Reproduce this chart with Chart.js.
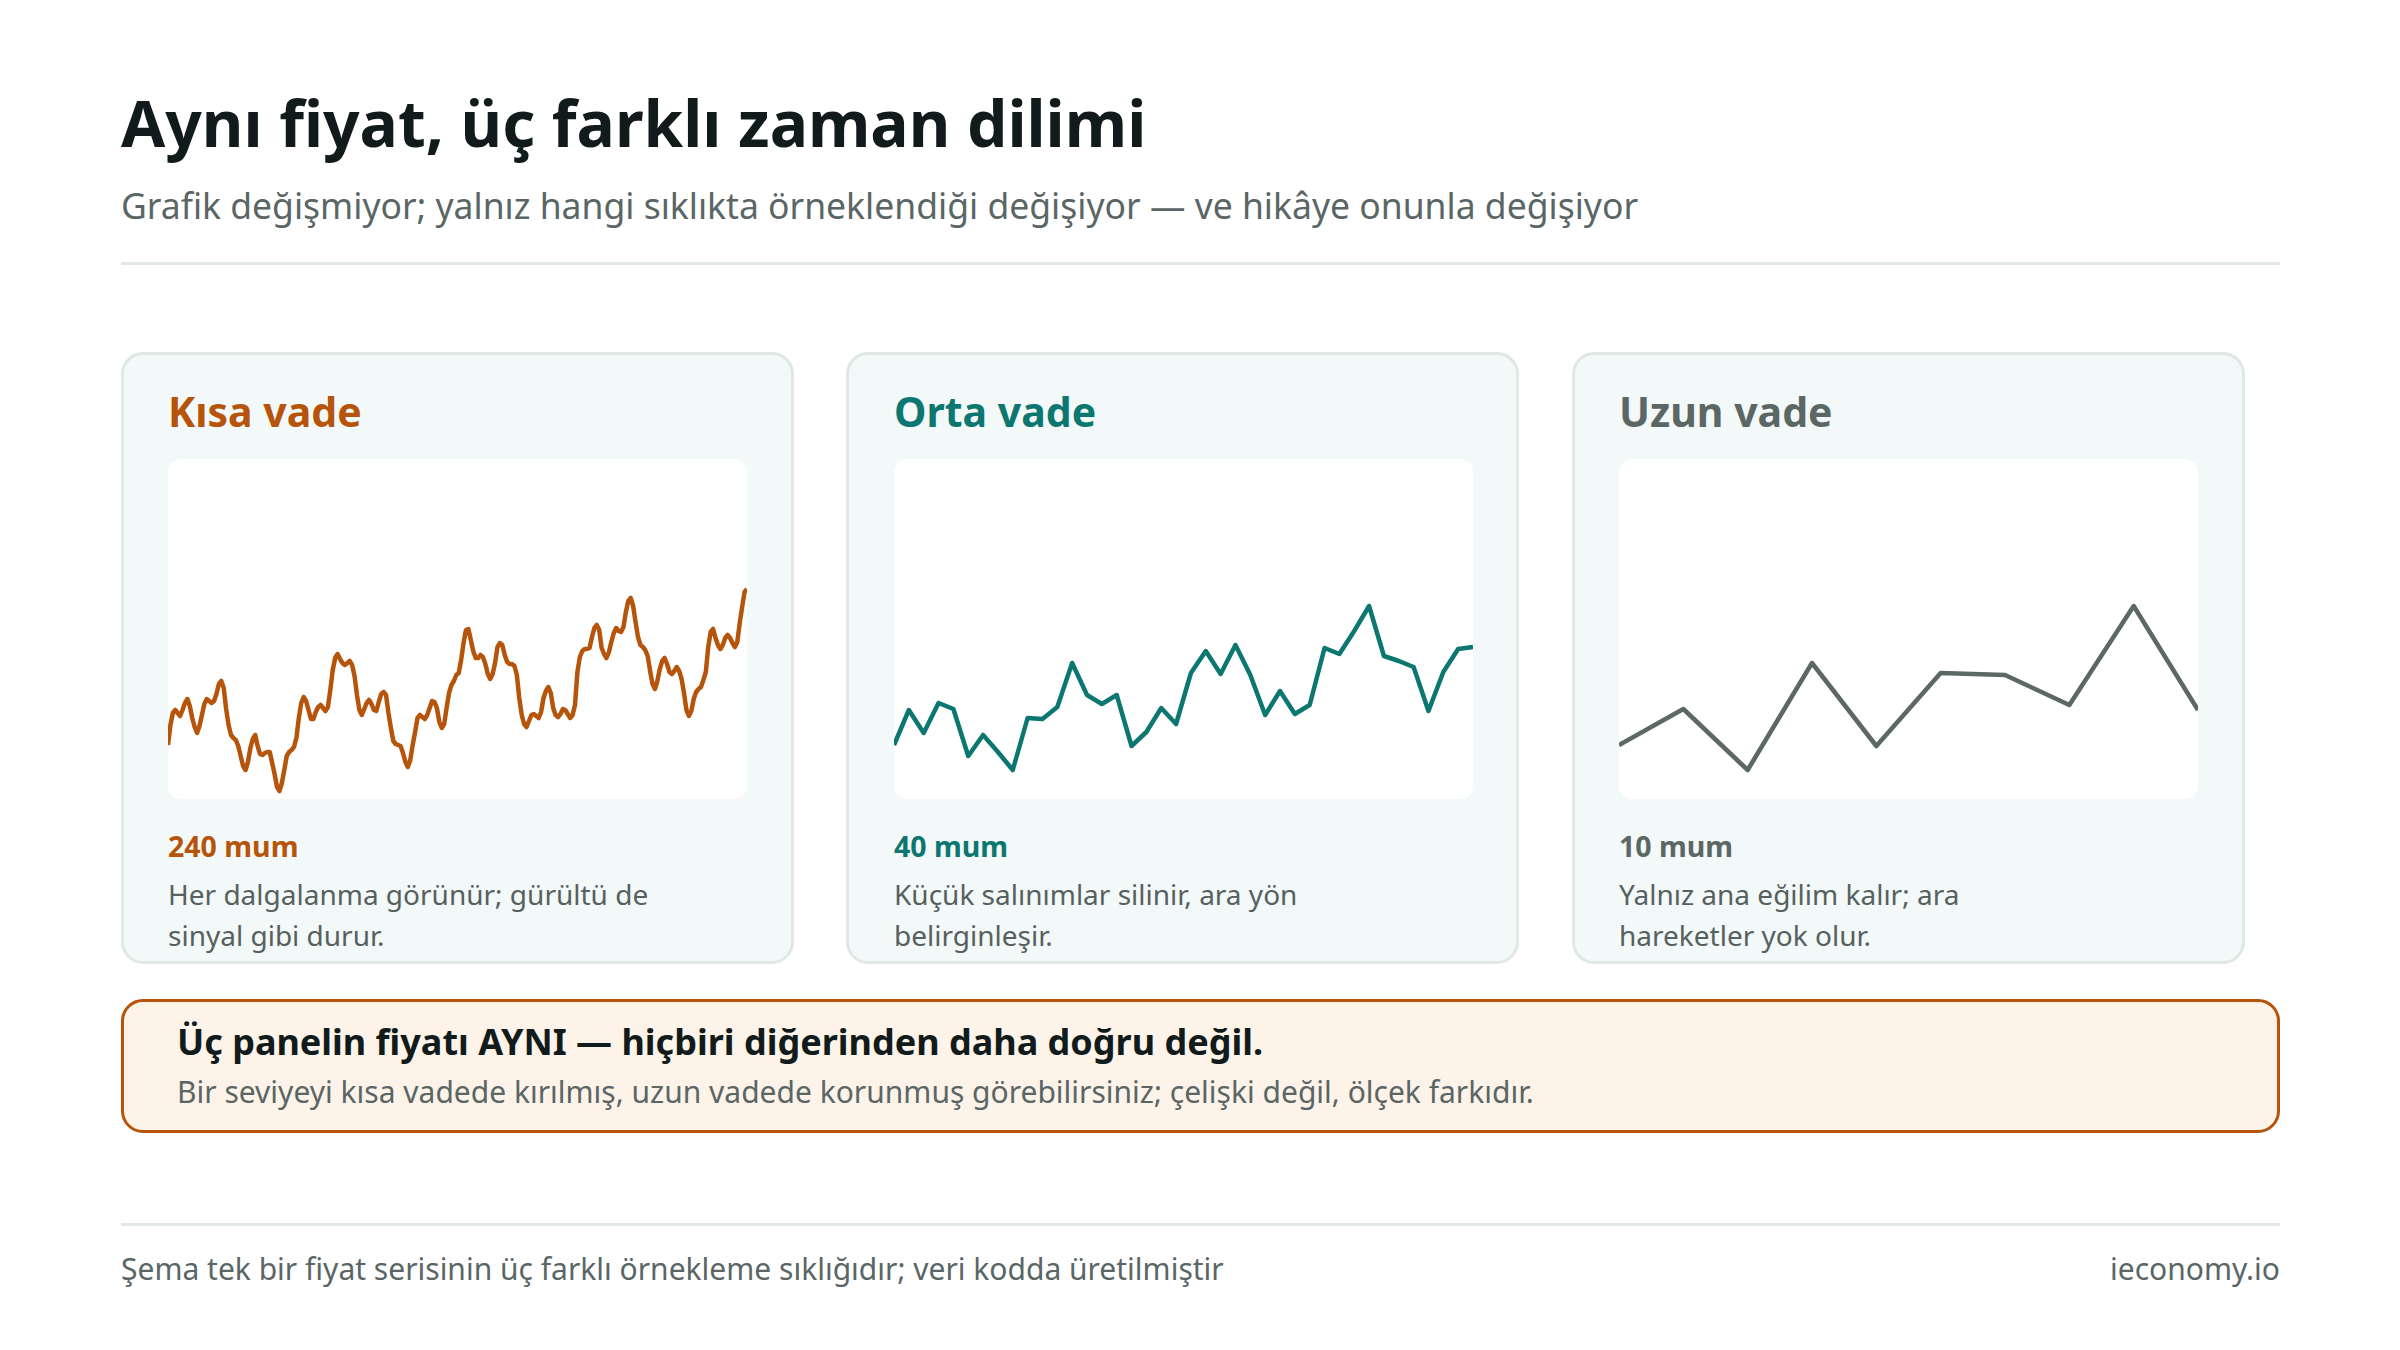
<!DOCTYPE html>
<html lang="tr">
<head>
<meta charset="utf-8">
<title>Aynı fiyat, üç farklı zaman dilimi</title>
<script src="https://cdn.jsdelivr.net/npm/chart.js@4.4.1/dist/chart.umd.min.js"></script>
<style>
  html, body { margin: 0; padding: 0; background: #ffffff; }
  body { font-family: "Noto Sans", "Open Sans", sans-serif; }
  .page { position: relative; width: 2400px; height: 1350px; overflow: hidden; }
  .abs { position: absolute; white-space: nowrap; }
  .title { left: 121px; top: 83px; font-size: 64px; line-height: 80px; font-weight: 700; color: #111b1b; }
  .subtitle { left: 121px; top: 183px; font-size: 35.5px; line-height: 44px; color: #5a6666; }
  .rule { left: 121px; width: 2159px; height: 3px; background: #e2e8e6; }
  .panel { top: 352px; width: 667px; height: 606px; background: #f3f8f8; border: 3px solid #e0e8e6; border-radius: 22px; }
  .ptitle { font-size: 41px; line-height: 50px; font-weight: 700; }
  .chartbox { width: 579px; height: 340px; background: #ffffff; border-radius: 13px; overflow: hidden; }
  .count { font-size: 28.5px; line-height: 36px; font-weight: 700; }
  .desc { font-size: 28px; line-height: 41px; color: #56615f; }
  .callout { left: 121px; top: 999px; width: 2153px; height: 128px; background: #fdf3e8; border: 3px solid #b5540a; border-radius: 22px; }
  .cbold { left: 177px; top: 1020px; font-size: 36px; line-height: 44px; font-weight: 700; color: #111b1b; }
  .ctext { left: 177px; top: 1073px; font-size: 30px; line-height: 38px; color: #5a6666; }
  .foot { top: 1250px; font-size: 30px; line-height: 38px; color: #5a6666; }
</style>
</head>
<body>
<div class="page">
  <div class="abs title">Aynı fiyat, üç farklı zaman dilimi</div>
  <div class="abs subtitle">Grafik değişmiyor; yalnız hangi sıklıkta örneklendiği değişiyor — ve hikâye onunla değişiyor</div>
  <div class="abs rule" style="top:262px"></div>

  <div class="abs panel" style="left:121px"></div>
  <div class="abs panel" style="left:846px"></div>
  <div class="abs panel" style="left:1572px"></div>

  <div class="abs ptitle" style="left:168px;top:386px;color:#b5540a">Kısa vade</div>
  <div class="abs ptitle" style="left:894px;top:386px;color:#0b7770">Orta vade</div>
  <div class="abs ptitle" style="left:1619px;top:386px;color:#5b6765">Uzun vade</div>

  <div class="abs chartbox" style="left:168px;top:459px"><canvas id="shortChart" width="579" height="340"></canvas></div>
  <div class="abs chartbox" style="left:894px;top:459px"><canvas id="midChart" width="579" height="340"></canvas></div>
  <div class="abs chartbox" style="left:1619px;top:459px"><canvas id="longChart" width="579" height="340"></canvas></div>

  <div class="abs count" style="left:168px;top:828px;color:#b5540a">240 mum</div>
  <div class="abs count" style="left:894px;top:828px;color:#0b7770">40 mum</div>
  <div class="abs count" style="left:1619px;top:828px;color:#5b6765">10 mum</div>

  <div class="abs desc" style="left:168px;top:874px">Her dalgalanma görünür; gürültü de<br>sinyal gibi durur.</div>
  <div class="abs desc" style="left:894px;top:874px">Küçük salınımlar silinir, ara yön<br>belirginleşir.</div>
  <div class="abs desc" style="left:1619px;top:874px">Yalnız ana eğilim kalır; ara<br>hareketler yok olur.</div>

  <div class="abs callout"></div>
  <div class="abs cbold">Üç panelin fiyatı AYNI — hiçbiri diğerinden daha doğru değil.</div>
  <div class="abs ctext">Bir seviyeyi kısa vadede kırılmış, uzun vadede korunmuş görebilirsiniz; çelişki değil, ölçek farkıdır.</div>

  <div class="abs rule" style="top:1223px"></div>
  <div class="abs foot" style="left:121px">Şema tek bir fiyat serisinin üç farklı örnekleme sıklığıdır; veri kodda üretilmiştir</div>
  <div class="abs foot" style="right:120px">ieconomy.io</div>
</div>

<script>
// same price, sampled at three frequencies
const short240 = [
  100.0, 102.0, 103.2, 103.5, 103.2, 102.9, 103.5, 104.2, 104.6, 103.9,
  102.7, 101.8, 101.2, 101.9, 103.0, 104.1, 104.6, 104.4, 104.2, 104.4,
  105.1, 106.1, 106.4, 105.7, 103.6, 102.0, 101.0, 100.7, 100.5, 99.9,
  98.9, 97.9, 97.5, 98.3, 99.7, 100.6, 101.0, 99.9, 99.1, 99.0,
  99.2, 99.3, 99.3, 98.2, 97.1, 95.8, 95.4, 96.2, 97.5, 98.9,
  99.3, 99.5, 99.8, 100.7, 102.7, 104.2, 104.8, 104.4, 103.5, 102.6,
  102.6, 103.3, 103.8, 104.0, 103.7, 103.4, 103.8, 105.5, 107.5, 108.7,
  109.1, 108.6, 108.2, 108.0, 108.2, 108.4, 108.0, 106.9, 105.0, 103.5,
  103.0, 103.6, 104.2, 104.5, 104.1, 103.5, 103.4, 104.3, 105.1, 105.3,
  105.0, 103.2, 101.7, 100.4, 100.1, 100.0, 99.9, 99.2, 98.3, 97.8,
  98.5, 100.0, 101.3, 102.7, 103.0, 102.8, 102.6, 103.0, 103.7, 104.4,
  104.3, 103.7, 102.3, 101.7, 102.1, 103.7, 105.2, 106.0, 106.4, 107.0,
  107.2, 108.5, 110.2, 111.5, 111.6, 110.5, 109.4, 108.7, 108.7, 109.0,
  108.8, 108.1, 107.1, 106.6, 107.1, 108.2, 109.8, 110.2, 110.0, 109.0,
  108.3, 108.1, 108.1, 107.9, 107.0, 104.7, 103.0, 102.1, 101.8, 102.4,
  103.0, 103.1, 102.9, 102.7, 103.3, 104.7, 105.4, 105.8, 105.2, 103.7,
  103.0, 102.8, 103.1, 103.6, 103.5, 103.1, 102.7, 103.0, 104.0, 107.3,
  108.8, 109.4, 109.6, 109.6, 109.7, 110.8, 111.7, 112.0, 111.5, 109.7,
  109.1, 108.7, 109.3, 110.3, 111.2, 111.7, 111.4, 111.3, 111.8, 113.3,
  114.4, 114.7, 113.9, 112.3, 110.8, 110.0, 109.8, 109.5, 108.9, 107.4,
  106.1, 105.6, 106.4, 107.6, 108.4, 108.7, 108.1, 107.3, 107.1, 107.4,
  107.8, 107.4, 106.6, 105.2, 103.5, 102.9, 103.4, 104.6, 105.3, 105.6,
  105.8, 106.5, 107.3, 109.8, 111.3, 111.6, 110.7, 110.0, 109.6, 110.0,
  110.7, 111.0, 110.7, 110.2, 109.8, 110.3, 112.2, 113.8, 115.3, 115.6
];
const mid40 = [
  100.0, 103.5, 101.2, 104.2, 103.6, 98.9, 101.0, 99.3, 97.5, 102.7,
  102.6, 103.8, 108.2, 105.0, 104.1, 105.0, 99.9, 101.3, 103.7, 102.1,
  107.2, 109.4, 107.1, 110.0, 107.0, 103.0, 105.4, 103.1, 104.0, 109.7,
  109.1, 111.4, 113.9, 108.9, 108.4, 107.8, 103.4, 107.3, 109.6, 109.8
];
const long10 = [100.0, 103.6, 97.5, 108.2, 99.9, 107.2, 107.0, 104.0, 113.9, 103.5];

const priceMin = 94.6;
const priceMax = 128.6;

const ORANGE = '#b5540a';
const TEAL = '#0b7770';
const SLATE = '#5b6866';

function drawPanel(id, values, color, width) {
  const el = document.getElementById(id);
  new Chart(el, {
    type: 'line',
    data: {
      labels: values.map((_, i) => i + 1),
      datasets: [{
        data: values,
        borderColor: color,
        borderWidth: width,
        pointRadius: 0,
        tension: 0,
        fill: false,
        borderJoinStyle: 'round',
        borderCapStyle: 'butt'
      }]
    },
    options: {
      responsive: false,
      animation: false,
      layout: { padding: 0 },
      plugins: {
        legend: { display: false },
        tooltip: { enabled: false }
      },
      scales: {
        x: { display: false, offset: false },
        y: { display: false, min: priceMin, max: priceMax }
      }
    }
  });
}

drawPanel('shortChart', short240, ORANGE, 4.5);
drawPanel('midChart', mid40, TEAL, 4.5);
drawPanel('longChart', long10, SLATE, 4.5);
</script>
</body>
</html>
